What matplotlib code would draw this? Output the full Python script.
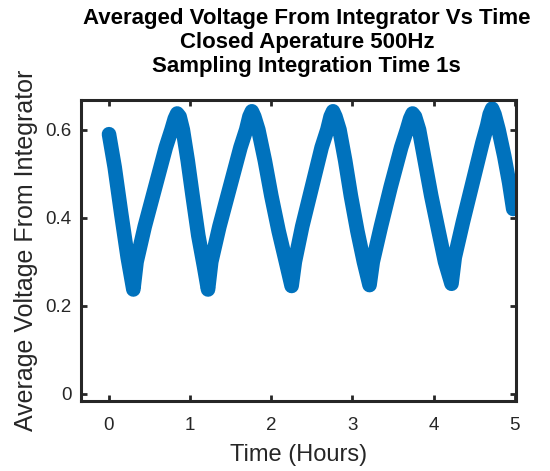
import matplotlib
matplotlib.use("Agg")
import matplotlib.pyplot as plt

# centre of the noisy band, hours vs volts
hours = [0.00, 0.07, 0.15, 0.23, 0.30,
         0.34, 0.44, 0.57, 0.70, 0.77, 0.81, 0.84, 0.87,
         0.91, 0.97, 1.03, 1.10, 1.17, 1.22,
         1.26, 1.36, 1.49, 1.62, 1.69, 1.73, 1.76, 1.79,
         1.84, 1.92, 2.00, 2.09, 2.18, 2.25,
         2.29, 2.38, 2.50, 2.62, 2.69, 2.73, 2.76, 2.79,
         2.84, 2.91, 2.98, 3.06, 3.14, 3.21,
         3.25, 3.35, 3.47, 3.60, 3.67, 3.71, 3.74, 3.77,
         3.82, 3.89, 3.97, 4.06, 4.14, 4.22,
         4.26, 4.36, 4.48, 4.60, 4.66, 4.69, 4.72, 4.75,
         4.80, 4.87, 4.93, 4.98]
volts = [0.59, 0.515, 0.41, 0.31, 0.237,
         0.30, 0.38, 0.47, 0.56, 0.60, 0.625, 0.637, 0.63,
         0.60, 0.53, 0.45, 0.36, 0.29, 0.237,
         0.30, 0.38, 0.47, 0.56, 0.60, 0.63, 0.642, 0.63,
         0.60, 0.53, 0.45, 0.37, 0.30, 0.245,
         0.30, 0.38, 0.47, 0.56, 0.60, 0.63, 0.642, 0.63,
         0.60, 0.53, 0.45, 0.37, 0.30, 0.247,
         0.30, 0.38, 0.47, 0.56, 0.60, 0.625, 0.637, 0.63,
         0.60, 0.53, 0.45, 0.37, 0.30, 0.25,
         0.31, 0.39, 0.48, 0.57, 0.61, 0.635, 0.648, 0.635,
         0.60, 0.54, 0.48, 0.42]

xticks = [0, 1, 2, 3, 4, 5]
yticks = [0, 0.2, 0.4, 0.6]

plt.rcParams['font.family'] = ['Liberation Sans', 'DejaVu Sans']
txt = '#262626'

fig = plt.figure(figsize=(5.5, 4.71), dpi=100)
ax = fig.add_axes([0.148, 0.149, 0.791, 0.639])

ax.plot(hours, volts, color='#0072BD', linewidth=10.5, solid_joinstyle='round',
        solid_capstyle='round')

ax.set_xlim(-0.34, 5.02)
ax.set_ylim(-0.016, 0.668)
ax.set_xticks(xticks)
ax.set_yticks(yticks)
ax.set_xticklabels([str(v) for v in xticks])
ax.set_yticklabels(['0', '0.2', '0.4', '0.6'])

for s in ax.spines.values():
    s.set_linewidth(2.2)
    s.set_color(txt)
ax.tick_params(direction='in', length=4, width=2, colors=txt, labelsize=13.5,
               top=True, right=True, pad=7)
ax.tick_params(axis='x', pad=12)

ax.set_xlabel('Time (Hours)', fontsize=17, color=txt, labelpad=7)
ax.set_ylabel('Average Voltage From Integrator', fontsize=18, color=txt, labelpad=5)
ax.set_title('Averaged Voltage From Integrator Vs Time\nClosed Aperature 500Hz\nSampling Integration Time 1s',
             fontsize=16, fontweight='bold', color='black', linespacing=1.2, pad=20,
             x=0.518)

fig.savefig('out.png', dpi=100)
